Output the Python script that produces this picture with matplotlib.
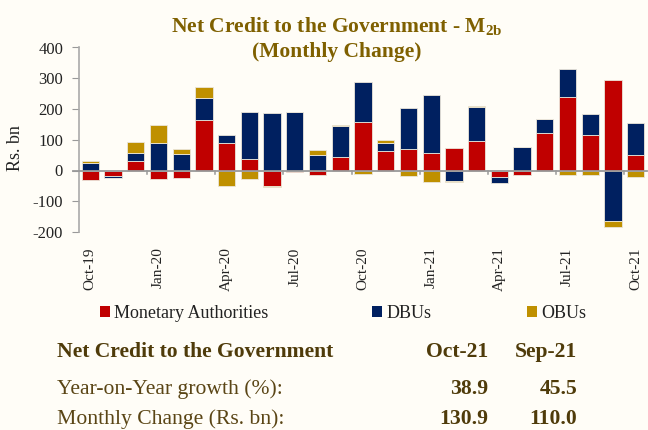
import matplotlib
matplotlib.use("Agg")
import matplotlib.pyplot as plt
from matplotlib.ticker import FuncFormatter
import numpy as np

months = ["Oct-19","Nov-19","Dec-19","Jan-20","Feb-20","Mar-20","Apr-20","May-20","Jun-20",
          "Jul-20","Aug-20","Sep-20","Oct-20","Nov-20","Dec-20","Jan-21","Feb-21","Mar-21",
          "Apr-21","May-21","Jun-21","Jul-21","Aug-21","Sep-21","Oct-21"]
monetary = [-32, -17, 30, -28, -26, 163, 91, 39, -49, -5, -14, 43, 157, 64, 69, 56, 72, 96,
            -22, -15, 123, 238, 116, 295, 50]
dbus = [26, -8, 26, 90, 54, 74, 24, 152, 188, 190, 50, 102, 132, 25, 133, 189, -35, 111,
        -19, 75, 43, 93, 67, -163, 103]
obus = [4, -1, 37, 57, 15, 36, -49, -29, -4, 0, 17, 2, -10, 11, -19, -37, -2, 3,
        0, 0, 3, -14, -15, -22, -22]
series_names = ["Monetary Authorities", "DBUs", "OBUs"]
colors = ["#C00000", "#002060", "#BF9000"]
tick_labels = ["Oct-19","Jan-20","Apr-20","Jul-20","Oct-20","Jan-21","Apr-21","Jul-21","Oct-21"]

table_header = ["Net Credit to the Government", "Oct-21", "Sep-21"]
table_rows = [["Year-on-Year growth (%):", "38.9", "45.5"],
              ["Monthly Change (Rs. bn):", "130.9", "110.0"]]

bg = "#FFFDF7"
serif = ["Liberation Serif", "DejaVu Serif"]
plt.rcParams["font.family"] = serif

W, H = 648, 430
fig = plt.figure(figsize=(6.48, 4.30), dpi=100, facecolor=bg)
ax = fig.add_axes([79/W, 1-232/H, (647-79)/W, (232-47.5)/H])
ax.set_facecolor(bg)

x = np.arange(len(months))
pos_base = np.zeros(len(months))
neg_base = np.zeros(len(months))
handles = []
for vals, c, name in zip([monetary, dbus, obus], colors, series_names):
    v = np.array(vals, dtype=float)
    bottoms = np.where(v >= 0, pos_base, neg_base)
    b = ax.bar(x, v, bottom=bottoms, width=0.76, color=c, edgecolor="#ebe6da",
               linewidth=0.6, label=name, zorder=2)
    handles.append(b)
    pos_base += np.where(v >= 0, v, 0)
    neg_base += np.where(v < 0, v, 0)

ax.set_xlim(-0.5, 24.5)
ax.set_ylim(-200, 400)
ax.set_yticks([-200, -100, 0, 100, 200, 300, 400])
ax.yaxis.set_major_formatter(FuncFormatter(lambda v, p: f"{int(v)}"))
ax.tick_params(axis="y", direction="out", length=5, color="#999999", labelsize=12,
               labelcolor="#222222", pad=6.5)
for s in ["top", "right", "bottom"]:
    ax.spines[s].set_visible(False)
ax.spines["left"].set_color("#aaaaaa")
ax.spines["left"].set_linewidth(1.2)
ax.axhline(0, color="#999999", lw=1.3, zorder=3, xmin=-0.011, clip_on=False)

ax.set_xticks([i for i, m in enumerate(months) if m in tick_labels])
ax.set_xticklabels(tick_labels, rotation=90, fontsize=11, color="#222222")
ax.tick_params(axis="x", length=0, pad=11)
for t in np.arange(2.5, 24, 3):
    ax.plot([t, t], [0, -12], color="#999999", lw=1.1, zorder=3)

fig.text(15.5/W, 1-148/H, "Rs. bn", rotation=90, ha="center", va="center",
         fontsize=13, color="#222222")

title_c = "#7F6000"
fig.text(337/W, 1-32/H, r"Net Credit to the Government - M$_{\mathregular{2b}}$",
         ha="center", va="baseline", fontsize=15.5, fontweight="bold", color=title_c)
fig.text(337/W, 1-57/H, "(Monthly Change)", ha="center", va="baseline",
         fontsize=15.5, fontweight="bold", color=title_c)

leg_x = [100, 372, 527]
for h, name, lx in zip(handles, series_names, leg_x):
    lg = fig.legend([h], [name], loc="center left", bbox_to_anchor=(lx/W, 1-313/H),
                    frameon=False, fontsize=13, handlelength=0.55, handleheight=0.55,
                    handletextpad=0.25, borderpad=0, borderaxespad=0,
                    labelcolor="#222222")
    for p in lg.legend_handles:
        p.set_edgecolor("none")

tc_head = "#4F3B0A"
tc = "#5A4515"
fs = 15.6
fig.text(57/W, 1-357/H, table_header[0], ha="left", va="baseline", fontsize=fs,
         fontweight="bold", color=tc_head)
fig.text(457/W, 1-357/H, table_header[1], ha="center", va="baseline", fontsize=fs,
         fontweight="bold", color=tc_head)
fig.text(546/W, 1-357/H, table_header[2], ha="center", va="baseline", fontsize=fs,
         fontweight="bold", color=tc_head)
for r, ypix in zip(table_rows, [394, 424]):
    fig.text(57/W, 1-ypix/H, r[0], ha="left", va="baseline", fontsize=fs, color=tc)
    fig.text(488/W, 1-ypix/H, r[1], ha="right", va="baseline", fontsize=fs,
             fontweight="bold", color=tc_head)
    fig.text(577/W, 1-ypix/H, r[2], ha="right", va="baseline", fontsize=fs,
             fontweight="bold", color=tc_head)

fig.savefig("out.png", dpi=100, facecolor=bg)
